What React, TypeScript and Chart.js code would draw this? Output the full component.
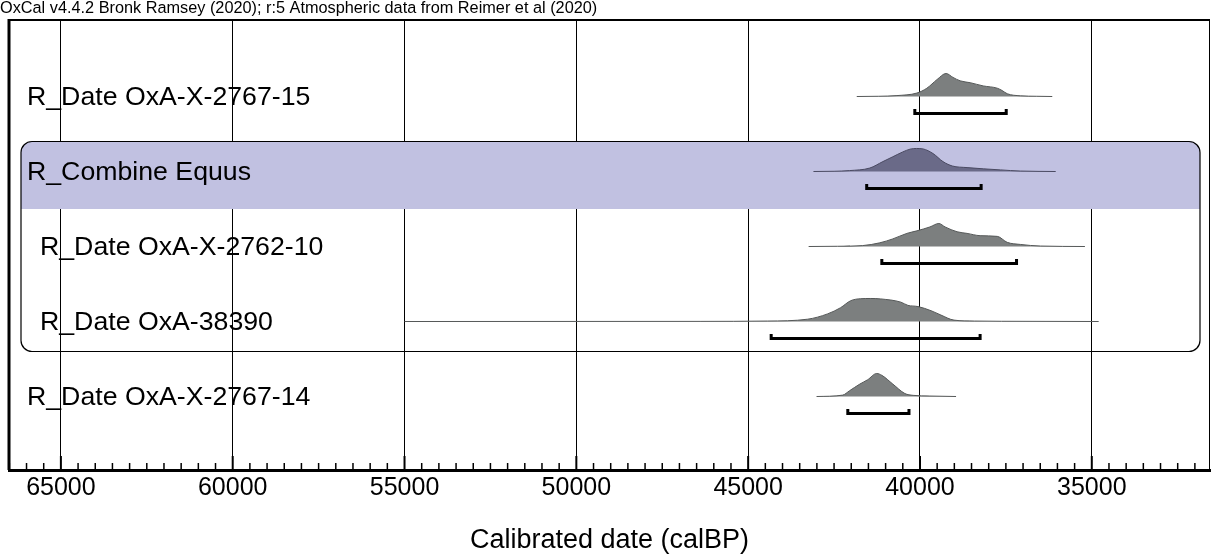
import React, { useEffect, useRef } from 'react';
import { Chart, registerables } from 'chart.js';

Chart.register(...registerables);

const FONT = "'Liberation Sans', Arial, sans-serif";

const caption = 'OxCal v4.4.2 Bronk Ramsey (2020); r:5 Atmospheric data from Reimer et al (2020)';
const axisTitle = 'Calibrated date (calBP)';

// Row labels (top to bottom) and whether they sit inside the Combine group
const rowLabels = [
  'R_Date OxA-X-2767-15',
  'R_Combine Equus',
  'R_Date OxA-X-2762-10',
  'R_Date OxA-38390',
  'R_Date OxA-X-2767-14',
];
const rowInGroup = [false, false, true, true, false];
const rowIsCombine = [false, true, false, false, false];

// Calendar axis
const xMin = 31560;
const xMax = 66510;
const tickValues = [65000, 60000, 55000, 50000, 45000, 40000, 35000];
const majorStep = 5000;
const minorStep = 500;

// Probability distributions (calBP year, relative probability)
const d1Years = [41840, 41200, 40670, 40090, 39800, 39500, 39240, 39040, 38830, 38540, 38160, 37750, 37610, 37460, 37080, 36600, 36150];
const d1Prob = [0, 0.01, 0.04, 0.15, 0.36, 0.74, 1.0, 0.83, 0.68, 0.6, 0.46, 0.36, 0.26, 0.12, 0.03, 0.01, 0];

const d2Years = [43100, 42500, 42050, 41460, 41080, 40790, 40500, 40290, 40100, 39910, 39620, 39330, 39060, 38630, 37660, 37080, 36050];
const d2Prob = [0, 0.01, 0.04, 0.15, 0.43, 0.64, 0.85, 0.97, 1.0, 0.98, 0.78, 0.43, 0.24, 0.17, 0.07, 0.02, 0];

const d3Years = [43240, 42400, 41670, 41170, 40790, 40380, 40090, 39710, 39450, 39270, 38920, 38630, 38250, 37750, 37460, 37080, 36490, 35200];
const d3Prob = [0, 0.01, 0.04, 0.16, 0.33, 0.57, 0.68, 0.85, 1.0, 0.85, 0.64, 0.57, 0.47, 0.44, 0.18, 0.09, 0.02, 0];

const d4Years = [55000, 46400, 44440, 43270, 42690, 42310, 42020, 41725, 41430, 41140, 40555, 40350, 40060, 39680, 39390, 39010, 38420, 37630, 34800];
const d4Prob = [0, 0.005, 0.02, 0.1, 0.33, 0.6, 0.9, 0.99, 1.0, 0.98, 0.84, 0.7, 0.65, 0.47, 0.28, 0.06, 0.02, 0.01, 0];

const d5Years = [43010, 42250, 42050, 41750, 41520, 41260, 41110, 40790, 40440, 40200, 39710, 38950];
const d5Prob = [0, 0.06, 0.25, 0.54, 0.73, 1.0, 0.92, 0.54, 0.13, 0.05, 0.02, 0];

// 95.4% ranges
const rangeFrom = [40150, 41550, 41110, 44330, 42100];
const rangeTo = [37490, 38220, 37190, 38250, 40320];

const distYears = [d1Years, d2Years, d3Years, d4Years, d5Years];
const distProb = [d1Prob, d2Prob, d3Prob, d4Prob, d5Prob];

// y-scale geometry (row units)
const PEAK = 0.307;
const BAR_OFF = 0.225;
const BAR_TICK = 0.06;
const GROUP_TOP = 1.6;
const BAND_BOTTOM = 2.5;
const GROUP_BOTTOM = 4.4;

const oxcalPlugin = {
  id: 'oxcalDeco',
  beforeDatasetsDraw(chart: any) {
    const { ctx, chartArea, scales } = chart;
    const y = scales.y;
    const left = chartArea.left + 12;
    const right = chartArea.right - 10;
    const top = y.getPixelForValue(GROUP_TOP);
    const bottom = y.getPixelForValue(GROUP_BOTTOM);
    const band = y.getPixelForValue(BAND_BOTTOM);
    const r = 11;
    ctx.save();
    const path = () => {
      ctx.beginPath();
      ctx.moveTo(left + r, top);
      ctx.lineTo(right - r, top);
      ctx.arcTo(right, top, right, top + r, r);
      ctx.lineTo(right, bottom - r);
      ctx.arcTo(right, bottom, right - r, bottom, r);
      ctx.lineTo(left + r, bottom);
      ctx.arcTo(left, bottom, left, bottom - r, r);
      ctx.lineTo(left, top + r);
      ctx.arcTo(left, top, left + r, top, r);
      ctx.closePath();
    };
    path();
    ctx.save();
    ctx.clip();
    ctx.fillStyle = 'rgb(193,193,225)';
    ctx.fillRect(left, top, right - left, band - top);
    ctx.restore();
    path();
    ctx.strokeStyle = '#000';
    ctx.lineWidth = 1.2;
    ctx.stroke();
    ctx.restore();
  },
  afterDatasetsDraw(chart: any) {
    const { ctx, chartArea, scales } = chart;
    const y = scales.y;
    ctx.save();
    ctx.fillStyle = '#000';
    ctx.font = `26.7px ${FONT}`;
    ctx.textBaseline = 'middle';
    ctx.textAlign = 'left';
    rowLabels.forEach((lab, i) => {
      const px = chartArea.left + (rowInGroup[i] ? 31 : 18);
      ctx.fillText(lab, px, y.getPixelForValue(i + 1) + 1);
    });
    ctx.restore();
  },
  afterDraw(chart: any) {
    const { ctx, chartArea, scales } = chart;
    const x = scales.x;
    ctx.save();
    ctx.strokeStyle = '#000';
    // frame
    ctx.lineWidth = 2;
    ctx.beginPath();
    ctx.moveTo(chartArea.left, chartArea.top);
    ctx.lineTo(chartArea.right, chartArea.top);
    ctx.stroke();
    ctx.lineWidth = 3;
    ctx.beginPath();
    ctx.moveTo(chartArea.left, chartArea.top - 1);
    ctx.lineTo(chartArea.left, chartArea.bottom);
    ctx.stroke();
    ctx.lineWidth = 1;
    ctx.beginPath();
    ctx.moveTo(chartArea.right - 0.5, chartArea.top);
    ctx.lineTo(chartArea.right - 0.5, chartArea.bottom);
    ctx.stroke();
    // minor / major ticks inside the axis
    const start = Math.ceil(xMin / minorStep) * minorStep;
    for (let v = start; v <= xMax; v += minorStep) {
      const px = x.getPixelForValue(v);
      const major = v % majorStep === 0;
      ctx.lineWidth = major ? 2 : 1.5;
      ctx.beginPath();
      ctx.moveTo(px, chartArea.bottom);
      ctx.lineTo(px, chartArea.bottom - (major ? 14 : 7));
      ctx.stroke();
    }
    // caption
    ctx.fillStyle = '#000';
    ctx.font = `16.3px ${FONT}`;
    ctx.textBaseline = 'middle';
    ctx.textAlign = 'left';
    ctx.fillText(caption, 0, 9);
    ctx.restore();
  },
};

export default function App() {
  const ref = useRef<HTMLCanvasElement | null>(null);

  useEffect(() => {
    if (!ref.current) return;
    const datasets: any[] = [];
    distYears.forEach((years, i) => {
      const row = i + 1;
      const data = years.map((yr, k) => ({ x: yr, y: row - distProb[i][k] * PEAK }));
      datasets.push({
        label: rowLabels[i],
        data,
        borderColor: rowIsCombine[i] ? '#4a4a62' : '#555858',
        borderWidth: 1,
        backgroundColor: rowIsCombine[i] ? 'rgb(106,106,136)' : 'rgb(124,127,127)',
        fill: { value: row },
        pointRadius: 0,
        cubicInterpolationMode: 'monotone',
      });
    });
    rangeFrom.forEach((from, i) => {
      const row = i + 1;
      const by = row + BAR_OFF;
      datasets.push({
        label: rowLabels[i] + ' range',
        data: [
          { x: from, y: by - BAR_TICK },
          { x: from, y: by },
          { x: rangeTo[i], y: by },
          { x: rangeTo[i], y: by - BAR_TICK },
        ],
        borderColor: '#000',
        borderWidth: 3,
        borderJoinStyle: 'miter',
        borderCapStyle: 'butt',
        fill: false,
        pointRadius: 0,
        tension: 0,
      });
    });

    const chart = new Chart(ref.current, {
      type: 'line',
      data: { datasets },
      plugins: [oxcalPlugin],
      options: {
        animation: false,
        responsive: false,
        maintainAspectRatio: false,
        layout: { padding: { top: 20, left: 9, right: 2, bottom: 0 } },
        plugins: {
          legend: { display: false },
          tooltip: { enabled: false },
          title: { display: false },
        },
        scales: {
          x: {
            type: 'linear',
            reverse: true,
            min: xMin,
            max: xMax,
            z: 1,
            grid: { color: '#000', lineWidth: 1, drawTicks: false },
            border: { display: true, color: '#000', width: 3 },
            ticks: {
              autoSkip: false,
              maxRotation: 0,
              padding: 3,
              color: '#000',
              font: { family: FONT, size: 25 },
              callback: (v: any) => String(v),
            },
            afterBuildTicks: (s: any) => {
              s.ticks = tickValues.map((v) => ({ value: v }));
            },
            title: {
              display: true,
              text: axisTitle,
              color: '#000',
              font: { family: FONT, size: 27 },
              padding: { top: 0, bottom: 0 },
            },
            afterFit: (s: any) => {
              s.height = 87;
              s.paddingLeft = 0;
              s.paddingRight = 0;
            },
          },
          y: {
            type: 'linear',
            reverse: true,
            min: -0.02,
            max: 5.98,
            display: false,
          },
        },
      } as any,
    });
    return () => chart.destroy();
  }, []);

  return (
    <div style={{ position: 'fixed', left: 0, top: 0, width: 1212, height: 557, background: '#fff' }}>
      <canvas ref={ref} width={1212} height={557} style={{ display: 'block' }} />
    </div>
  );
}
